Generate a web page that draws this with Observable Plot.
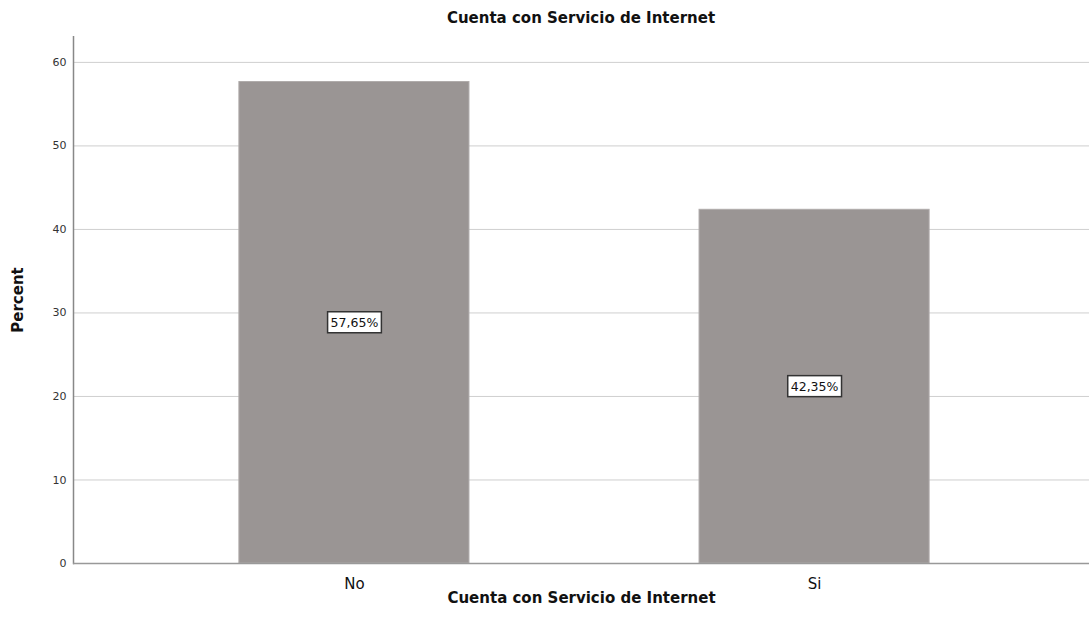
<!DOCTYPE html>
<html><head><meta charset="utf-8">
<script src="https://cdn.jsdelivr.net/npm/d3@7"></script>
<script src="https://cdn.jsdelivr.net/npm/@observablehq/plot@0.6"></script>
<style>
body{margin:0;background:#fff;font-family:"DejaVu Sans",sans-serif;}
#title{height:36px;line-height:36px;box-sizing:border-box;padding-left:73px;text-align:center;font-weight:bold;font-size:15px;color:#111;width:1089px;}
</style></head>
<body>
<div id="title">Cuenta con Servicio de Internet</div>
<div id="chart"></div>
<script>
const categories = ["No", "Si"];
const percents = [57.65, 42.35];
const labels = ["57,65%", "42,35%"];
const yTicks = [0, 10, 20, 30, 40, 50, 60];

const data = categories.map((c, i) => ({cat: c, pct: percents[i], label: labels[i]}));

const plot = Plot.plot({
  width: 1089,
  height: 602,
  marginLeft: 73,
  marginRight: 0,
  marginTop: 0,
  marginBottom: 75,
  style: {fontFamily: "DejaVu Sans, sans-serif", background: "#fff"},
  x: {domain: categories, paddingInner: 0.5, paddingOuter: 0.354, round: false, range: [76, 1092], label: null},
  y: {domain: [0, 63.1], label: null},
  marks: [
    Plot.gridY(yTicks, {stroke: "#cfcfcf", strokeOpacity: 1, strokeWidth: 1}),
    Plot.barY(data, {x: "cat", y: "pct", fill: "#9a9594", stroke: "#b0acab", strokeWidth: 1}),
    Plot.axisY(yTicks, {tickSize: 0, tickPadding: 7, fontSize: 11, fill: "#333", label: null}),
    Plot.axisX({tickSize: 0, tickPadding: 15, fontSize: 15, fill: "#111", label: null}),
    Plot.frame({anchor: "left", stroke: "#888", strokeWidth: 1.5}),
    Plot.ruleY([0], {stroke: "#999", strokeWidth: 1.5}),
    Plot.text(data, {x: "cat", y: d => d.pct / 2, text: "label", fontSize: 12.5, fill: "#111", className: "barlabels"}),
    Plot.text(["Percent"], {frameAnchor: "left", textAnchor: "middle", dx: -55, rotate: -90, fontSize: 15, fontWeight: "bold", fill: "#111"}),
    Plot.text(["Cuenta con Servicio de Internet"], {frameAnchor: "bottom", dy: 39, fontSize: 15, fontWeight: "bold", fill: "#111"})
  ]
});
document.getElementById("chart").appendChild(plot);

// draw white boxes with dark borders behind the bar labels
plot.querySelectorAll("g.barlabels text").forEach(t => {
  const b = t.getBBox();
  const r = document.createElementNS("http://www.w3.org/2000/svg", "rect");
  r.setAttribute("x", b.x - 3);
  r.setAttribute("y", b.y - 3);
  r.setAttribute("width", b.width + 6);
  r.setAttribute("height", b.height + 6);
  r.setAttribute("fill", "#fff");
  r.setAttribute("stroke", "#333");
  r.setAttribute("stroke-width", "1.5");
  const tr = t.getAttribute("transform");
  if (tr) r.setAttribute("transform", tr);
  t.parentNode.insertBefore(r, t);
});
</script>
</body></html>
